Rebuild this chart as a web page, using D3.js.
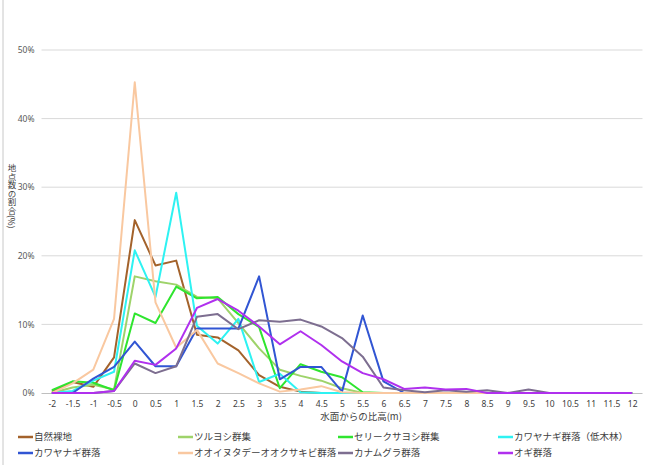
<!DOCTYPE html>
<html>
<head>
<meta charset="utf-8">
<script src="https://cdn.jsdelivr.net/npm/d3@7"></script>
<style>
  html, body { margin: 0; padding: 0; background: #fff; }
  svg { display: block; font-family: "Noto Sans CJK JP", "Noto Sans", sans-serif; }
</style>
</head>
<body>
<svg id="chart" width="645" height="465"></svg>
<script>
// Height above the water surface (m), one category every 0.5 m
const heights = ["-2","-1.5","-1","-0.5","0","0.5","1","1.5","2","2.5","3","3.5","4","4.5","5","5.5","6","6.5","7","7.5","8","8.5","9","9.5","10","10.5","11","11.5","12"];

// Share of survey points (%) per community
const bareLand      = [0.2,1.6,0.9,5.2,25.2,18.6,19.3,8.5,8.1,6.2,2.6,0.9,0.2,0,0,0,0,0,0,0,0,0,0,0,0,0,0,0,0];
const tsuruyoshi    = [0,0.8,1.2,0.5,17,16.3,15.8,14,13.8,10.2,6.5,3.4,2.5,1.8,0.7,0,0,0,0,0,0,0,0,0,0,0,0,0,0];
const serikusayoshi = [0.4,1.7,1.5,0.4,11.6,10.2,15.5,13.8,14,11.5,9.6,0.7,4.2,3.1,2.3,0.1,0,0,0,0,0,0,0,0,0,0,0,0,0];
const willowShrub   = [0,0.3,1.8,3.1,20.8,14,29.2,9.8,7.2,10.8,1.6,2.8,0.1,0,0,0,0,0,0,0,0,0,0,0,0,0,0,0,0];
const willow        = [0,0,2.1,3.8,7.5,3.9,3.9,9.4,9.4,9.4,17,2,3.8,3.8,0.2,11.3,1.7,0,0,0,0,0,0,0,0,0,0,0,0];
const knotweed      = [0,1.4,3.4,10.8,45.3,13.2,6.6,9.2,4.3,2.9,1.4,0.2,0.5,1,0.1,0,0,0,0,0,0,0,0,0,0,0,0,0,0];
const kanamugura    = [0,0,0,0.3,4.3,2.9,3.9,11.1,11.5,9.3,10.6,10.4,10.7,9.7,8,5.3,0.8,0.4,0.1,0.4,0.2,0.4,0,0.5,0,0,0,0,0];
const ogi           = [0,0,0,0.3,4.7,4.1,6.5,12.4,13.7,12,9.7,7.1,9,7,4.6,2.9,2,0.6,0.8,0.5,0.6,0,0,0,0,0,0,0,0];

const yTicks = [0, 10, 20, 30, 40, 50];

const seriesNames  = ["自然裸地","ツルヨシ群集","セリークサヨシ群集","カワヤナギ群落（低木林）","カワヤナギ群落","オオイヌタデーオオクサキビ群落","カナムグラ群落","オギ群落"];
const seriesValues = [bareLand, tsuruyoshi, serikusayoshi, willowShrub, willow, knotweed, kanamugura, ogi];
const seriesColors = ["#A3622B","#9ED36A","#2FE52F","#2EF2F2","#3155D3","#F9C8A0","#7D6E90","#B030EE"];

const series = seriesNames.map((name, i) => ({ name, color: seriesColors[i], values: seriesValues[i] }));

const svg = d3.select("#chart");
const plot = { left: 41.5, right: 642.5, top: 50, bottom: 393 };

// chart frame edge
svg.append("line")
  .attr("x1", 3).attr("x2", 3).attr("y1", 0).attr("y2", 465)
  .attr("stroke", "#C8C8C8").attr("stroke-width", 1);

const x = d3.scalePoint().domain(heights).range([plot.left, plot.right]).padding(0.5);
const y = d3.scaleLinear().domain([0, 50]).range([plot.bottom, plot.top]);

// horizontal gridlines
svg.append("g")
  .selectAll("line")
  .data(yTicks.filter(d => d > 0))
  .join("line")
  .attr("x1", plot.left).attr("x2", plot.right)
  .attr("y1", d => y(d)).attr("y2", d => y(d))
  .attr("stroke", "#D9D9D9").attr("stroke-width", 1);

// y axis labels
const yAxis = d3.axisLeft(y).tickValues(yTicks).tickFormat(d => d + "%").tickSize(0).tickPadding(6);
svg.append("g")
  .attr("transform", `translate(${plot.left},0)`)
  .call(yAxis)
  .call(g => g.select(".domain").remove())
  .call(g => g.selectAll("text").attr("fill", "#595959").attr("font-size", "8.5px")
    .attr("font-family", "'Noto Sans', sans-serif").attr("x", -7));

// x axis
const xAxis = d3.axisBottom(x).tickSize(0).tickPadding(8);
svg.append("g")
  .attr("transform", `translate(0,${plot.bottom})`)
  .call(xAxis)
  .call(g => g.select(".domain").attr("stroke", "#BFBFBF").attr("d", `M${plot.left},0.5H${plot.right}`))
  .call(g => g.selectAll("text").attr("fill", "#404040").attr("font-size", "8.5px")
    .attr("font-family", "'Noto Sans', sans-serif"));

// axis titles
svg.append("text")
  .attr("x", 361).attr("y", 420)
  .attr("text-anchor", "middle")
  .attr("font-size", "9.5px").attr("fill", "#404040")
  .text("水面からの比高(m)");

// vertical y title: upright CJK glyphs, sideways "(%)"
svg.append("text")
  .attr("x", 12).attr("y", 164)
  .attr("font-size", "8.5px").attr("fill", "#404040")
  .style("writing-mode", "vertical-rl")
  .style("text-orientation", "mixed")
  .text("地点数の割合(%)");

// series lines
const line = d3.line()
  .x((d, i) => x(heights[i]))
  .y(d => y(d));

svg.append("g")
  .selectAll("path")
  .data(series)
  .join("path")
  .attr("d", d => line(d.values))
  .attr("fill", "none")
  .attr("stroke", d => d.color)
  .attr("stroke-width", 2)
  .attr("stroke-linejoin", "round");

// legend: four columns, two rows
const legend = svg.append("g");
const items = legend.selectAll("g")
  .data(series)
  .join("g")
  .attr("transform", (d, i) => `translate(${18 + (i % 4) * 160},${437 + Math.floor(i / 4) * 16})`);
items.append("line")
  .attr("x1", 0).attr("x2", 15).attr("y1", 0).attr("y2", 0)
  .attr("stroke", d => d.color).attr("stroke-width", 2.5);
items.append("text")
  .attr("x", 16).attr("y", 0).attr("dy", "0.35em")
  .attr("font-size", "9.5px").attr("fill", "#404040")
  .text(d => d.name);
</script>
</body>
</html>
